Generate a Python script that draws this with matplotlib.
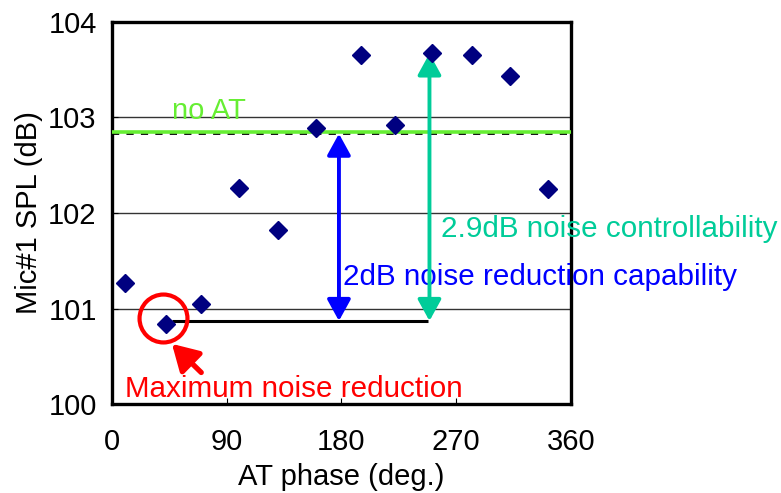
import numpy as np
import matplotlib.pyplot as plt
from matplotlib.patches import FancyArrowPatch

plt.rcParams['font.family'] = ['Liberation Sans', 'DejaVu Sans']

# measured data
phase = [10, 42, 70, 100, 130, 160, 195, 222, 251, 282, 312, 342]
spl = [101.27, 100.84, 101.05, 102.26, 101.82, 102.89,
       103.65, 102.92, 103.68, 103.65, 103.43, 102.25]
no_at = 102.85
no_at_dash = 102.83
spl_min = 100.87
min_line_x = [47, 248]
reduction_x = 178
control_x = 249
spl_max = 103.67
circle_xy = (40, 100.9)
red_arrow = [(70, 100.33), (47, 100.63)]

fig = plt.figure(figsize=(7.81, 4.93), dpi=100)
ax = fig.add_axes([0.1434, 0.1805, 0.5877, 0.7749])

ax.set_xlim(0, 360)
ax.set_ylim(100, 104)
ax.set_xticks([0, 90, 180, 270, 360])
ax.set_yticks([100, 101, 102, 103, 104])
ax.tick_params(axis='x', direction='in', length=4, width=0.8, labelsize=21, pad=17)
ax.tick_params(axis='y', direction='in', length=4, width=0.8, labelsize=21, pad=11)
ax.yaxis.grid(True, color='#333333', lw=1)
ax.set_axisbelow(True)
for s in ax.spines.values():
    s.set_linewidth(2.4)

ax.set_xlabel('AT phase (deg.)', fontsize=21, labelpad=5)
ax.set_ylabel('Mic#1 SPL (dB)', fontsize=21, labelpad=4)

# no AT reference lines
ax.axhline(no_at_dash, color='black', lw=1.3, dashes=(4, 4), zorder=2)
ax.axhline(no_at, color='#66ee33', lw=2.6, zorder=3)
ax.text(min_line_x[0], 102.98, 'no AT', color='#66ee33', fontsize=21, va='baseline')

# min level line
ax.plot(min_line_x, [spl_min, spl_min], color='black', lw=2.2, zorder=3,
        solid_capstyle='butt')

# arrows
a1 = FancyArrowPatch((reduction_x, spl_min), (reduction_x, no_at_dash),
                     arrowstyle='<|-|>,head_length=1.0,head_width=0.55',
                     mutation_scale=13, color='#0000ff', lw=2.8,
                     shrinkA=0, shrinkB=0, zorder=4)
ax.add_patch(a1)
a2 = FancyArrowPatch((control_x, spl_min), (control_x, spl_max),
                     arrowstyle='<|-|>,head_length=1.0,head_width=0.55',
                     mutation_scale=13, color='#00cc99', lw=2.8,
                     shrinkA=0, shrinkB=0, zorder=4)
ax.add_patch(a2)

ax.text(181, 101.25, '2dB noise reduction capability', color='#0000ff',
        fontsize=21.3, va='baseline')
ax.text(258, 101.75, '2.9dB noise controllability', color='#00cc99',
        fontsize=21.3, va='baseline')

# data points
ax.plot(phase, spl, linestyle='none', marker='D', ms=9, color='#000080', zorder=5)

# highlight of the minimum
ax.plot([circle_xy[0]], [circle_xy[1]], marker='o', ms=34.5, mfc='none',
        mec='red', mew=3, zorder=6)
a3 = FancyArrowPatch(red_arrow[0], red_arrow[1],
                     arrowstyle='-|>,head_length=1.2,head_width=0.7',
                     mutation_scale=13, color='red', lw=3.8,
                     shrinkA=0, shrinkB=0, zorder=6)
ax.add_patch(a3)
ax.text(10, 100.07, 'Maximum noise reduction', color='red', fontsize=21.3,
        va='baseline')

fig.savefig('out.png', dpi=100)
